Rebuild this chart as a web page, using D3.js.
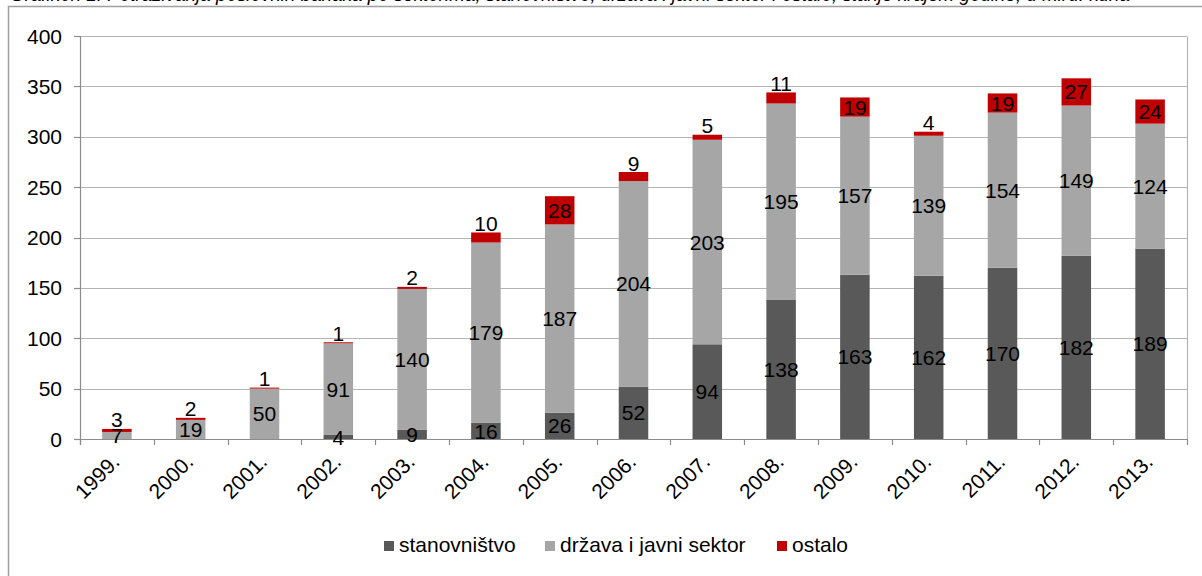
<!DOCTYPE html>
<html><head><meta charset="utf-8">
<script src="https://cdn.jsdelivr.net/npm/d3@7"></script>
<style>body{margin:0;background:#fff;} svg{display:block;font-family:"Liberation Sans",Arial,sans-serif;}</style>
</head><body>
<svg id="c" width="1202" height="576"></svg>
<script>
const years = ["1999.","2000.","2001.","2002.","2003.","2004.","2005.","2006.","2007.","2008.","2009.","2010.","2011.","2012.","2013."];
const stanovnistvo = [0,0,0,4,9,16,26,52,94,138,163,162,170,182,189];
const drzava = [7,19,50,91,140,179,187,204,203,195,157,139,154,149,124];
const ostalo = [3,2,1,1,2,10,28,9,5,11,19,4,19,27,24];
const seriesNames = ["stanovništvo","država i javni sektor","ostalo"];
const seriesColors = ["#595959","#a6a6a6","#c00000"];
const yTicks = [0,50,100,150,200,250,300,350,400];
const title = "Grafikon 1. Potraživanja poslovnih banaka po sektorima, stanovništvo, država i javni sektor i ostalo, stanje krajem godine, u mlrd. kuna";

const svg = d3.select("#c");
const L = 80, R = 1187, T = 36, B = 439;
const FS = 21;

// title (cropped at top edge, as in the reference)
svg.append("text").attr("x", 10).attr("y", 0.5).attr("font-size", 20).attr("font-style","italic")
  .attr("textLength", 1120).attr("lengthAdjust","spacingAndGlyphs")
  .attr("fill","#000").text(title);

// outer chart border
svg.append("rect").attr("x",8.5).attr("y",6.5).attr("width",1210).attr("height",600)
  .attr("fill","none").attr("stroke","#a0a0a0").attr("stroke-width",1.5);

const x = d3.scaleBand().domain(years).range([L,R]).paddingInner(0.6).paddingOuter(0.3);
const y = d3.scaleLinear().domain([0,400]).range([B,T]);

// gridlines
svg.append("g").selectAll("line").data(yTicks.filter(d=>d>0)).join("line")
  .attr("x1",L).attr("x2",R).attr("y1",d=>Math.round(y(d))+0.5).attr("y2",d=>Math.round(y(d))+0.5)
  .attr("stroke","#b4b4b4").attr("stroke-width",1.2);
// plot right border
svg.append("line").attr("x1",R+0.5).attr("x2",R+0.5).attr("y1",Math.round(y(400))+0.5).attr("y2",B)
  .attr("stroke","#b4b4b4").attr("stroke-width",1.2);

// stacked data
const rows = years.map((yr,i)=>({year:yr, s:stanovnistvo[i], d:drzava[i], o:ostalo[i]}));
const stack = d3.stack().keys(["s","d","o"])(rows);

const g = svg.append("g");
stack.forEach((layer,k)=>{
  g.append("g").selectAll("rect").data(layer).join("rect")
    .attr("x",d=>x(d.data.year)).attr("width",x.bandwidth())
    .attr("y",d=>y(d[1])).attr("height",d=>y(d[0])-y(d[1]))
    .attr("fill",seriesColors[k]);
});

// y axis
const ya = svg.append("g");
ya.append("line").attr("x1",L+0.5).attr("x2",L+0.5).attr("y1",T).attr("y2",B+6).attr("stroke","#8c8c8c").attr("stroke-width",1.2);
ya.selectAll("line.t").data(yTicks).join("line").attr("class","t")
  .attr("x1",L-6).attr("x2",L).attr("y1",d=>Math.round(y(d))+0.5).attr("y2",d=>Math.round(y(d))+0.5)
  .attr("stroke","#8c8c8c").attr("stroke-width",1.2);
ya.selectAll("text").data(yTicks).join("text")
  .attr("x",62).attr("y",d=>y(d)).attr("dy","0.36em").attr("text-anchor","end")
  .attr("font-size",FS).attr("fill","#000").text(d=>d);

// x axis
const xa = svg.append("g");
xa.append("line").attr("x1",L).attr("x2",R).attr("y1",B+0.5).attr("y2",B+0.5).attr("stroke","#8c8c8c").attr("stroke-width",1.2);
const bounds = d3.range(years.length+1).map(i=>L + i*x.step());
xa.selectAll("line.t").data(bounds).join("line").attr("class","t")
  .attr("x1",d=>Math.round(d)+0.5).attr("x2",d=>Math.round(d)+0.5).attr("y1",B).attr("y2",B+6)
  .attr("stroke","#8c8c8c").attr("stroke-width",1.2);
xa.selectAll("text").data(years).join("text")
  .attr("transform",d=>`translate(${x(d)+x.bandwidth()/2+4},${B+24}) rotate(-45)`)
  .attr("text-anchor","end").attr("font-size",FS).attr("fill","#000").text(d=>d);

// data labels
const lab = svg.append("g").attr("font-size",FS).attr("text-anchor","middle").attr("fill","#000");
stack.forEach((layer,k)=>{
  layer.forEach(d=>{
    const v = d[1]-d[0];
    if (v<=0) return;
    const top = y(d[1]), mid = (y(d[0])+y(d[1]))/2;
    let cy = mid;
    if (k===2 && v<12) cy = top - 9;
    lab.append("text").attr("x",x(d.data.year)+x.bandwidth()/2).attr("y",cy).attr("dy","0.36em").text(v);
  });
});

// legend
const legX = [384,545,777];
const leg = svg.append("g");
seriesNames.forEach((n,i)=>{
  leg.append("rect").attr("x",legX[i]).attr("y",541).attr("width",10).attr("height",10).attr("fill",seriesColors[i]);
  leg.append("text").attr("x",legX[i]+15).attr("y",552).attr("font-size",FS).attr("fill","#000").text(n);
});
</script>
</body></html>
